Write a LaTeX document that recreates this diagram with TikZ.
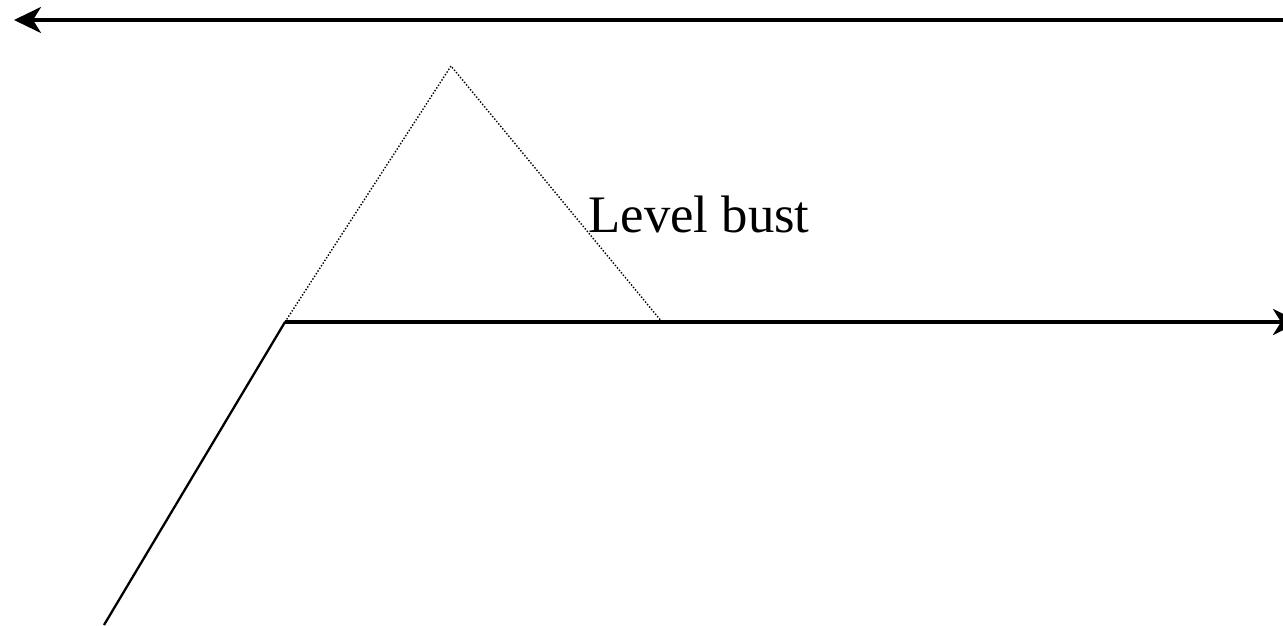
\documentclass[tikz,border=0pt]{standalone}
\usepackage{fontspec}
\setmainfont{Liberation Serif}
\usetikzlibrary{positioning, arrows.meta}

\begin{document}
\begin{tikzpicture}[
        x=0.02cm, y=-0.02cm,
        every node/.style={align=center, font=\fontsize{30}{36}\selectfont},
        arrow/.style={-{Stealth[length=0.54cm, width=0.52cm, inset=0.16cm]}, line width=2pt, draw=black},
        climb/.style={line width=1.3pt, draw=black},
        bust/.style={densely dotted, line width=0.8pt, draw=black}
    ]
    \useasboundingbox (0,0) rectangle (1283,625);

    % Points of the flight path
    \coordinate (upperR) at (1283,20);
    \coordinate (upperL) at (14,20);
    \coordinate (start) at (104,625);
    \coordinate (level) at (285,322);
    \coordinate (levelR) at (1300,322);
    \coordinate (peak) at (451,66);
    \coordinate (back) at (662,322);

    % Upper level arrow
    \draw[arrow] (upperR) -- (upperL);

    % Climb and cleared level
    \draw[climb] (start) -- (level);
    \draw[arrow] (level) -- (levelR);

    % Overshoot above the cleared level
    \draw[bust] (level) -- (peak) -- (back);
    \node[anchor=base] (label) at (699,232) {Level bust};

\end{tikzpicture}
\end{document}
